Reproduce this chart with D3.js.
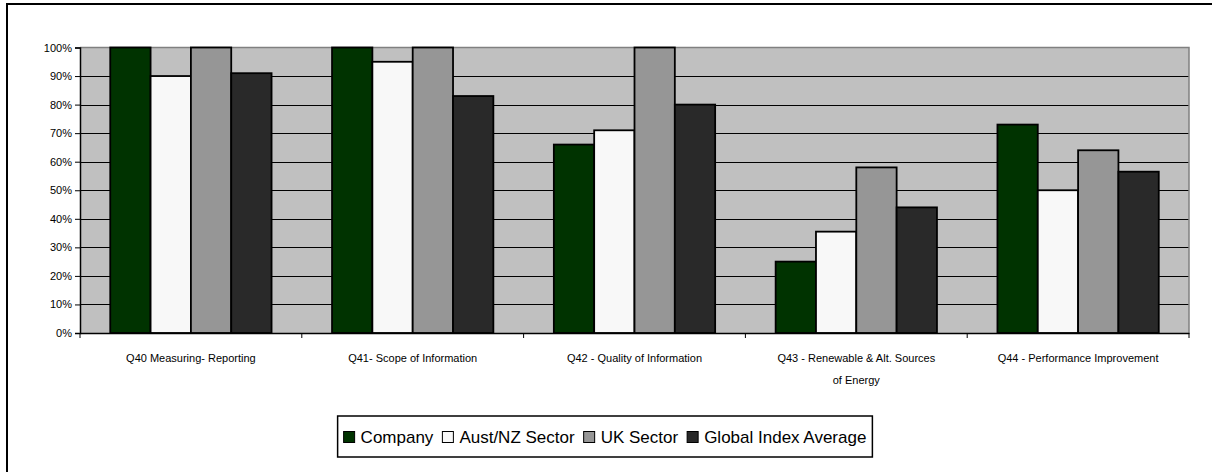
<!DOCTYPE html>
<html>
<head>
<meta charset="utf-8">
<script src="https://cdn.jsdelivr.net/npm/d3@7"></script>
<style>
  html, body { margin: 0; padding: 0; background: #ffffff; }
  svg { display: block; font-family: "Liberation Sans", Arial, sans-serif; }
</style>
</head>
<body>
<svg id="chart" width="1212" height="472"></svg>
<script>
const categories = [
  ["Q40 Measuring- Reporting"],
  ["Q41- Scope of Information"],
  ["Q42 - Quality of Information"],
  ["Q43 - Renewable & Alt. Sources", "of Energy"],
  ["Q44 - Performance Improvement"]
];
const seriesNames = ["Company", "Aust/NZ Sector", "UK Sector", "Global Index Average"];
const company = [1.00, 1.00, 0.66, 0.25, 0.73];
const austNZ  = [0.90, 0.95, 0.71, 0.355, 0.50];
const ukSector = [1.00, 1.00, 1.00, 0.58, 0.64];
const globalAvg = [0.91, 0.83, 0.80, 0.44, 0.565];
const yTicks = [0, 0.1, 0.2, 0.3, 0.4, 0.5, 0.6, 0.7, 0.8, 0.9, 1.0];
const colors = ["#003300", "#f8f8f8", "#969696", "#292929"];

const seriesValues = [company, austNZ, ukSector, globalAvg];
const catKeys = categories.map(c => c.join(" "));

const svg = d3.select("#chart");

// outer frame
svg.append("rect").attr("x", 7).attr("y", 4).attr("width", 1230).attr("height", 500)
  .attr("fill", "#fff").attr("stroke", "#000").attr("stroke-width", 2);

const plot = { left: 80, right: 1189, top: 47.5, bottom: 333 };

const x = d3.scaleBand().domain(catKeys).range([plot.left, plot.right]).padding(0);
const x1 = d3.scaleBand().domain(seriesNames).range([0, x.bandwidth()]).paddingInner(0).paddingOuter(0.75);
const y = d3.scaleLinear().domain([0, 1]).range([plot.bottom, plot.top]);

// plot background
svg.append("rect").attr("x", plot.left).attr("y", plot.top)
  .attr("width", plot.right - plot.left).attr("height", plot.bottom - plot.top)
  .attr("fill", "#c0c0c0");

// gridlines
svg.append("g").selectAll("line").data(yTicks.filter(t => t > 0 && t < 1)).join("line")
  .attr("x1", plot.left).attr("x2", plot.right)
  .attr("y1", d => Math.round(y(d)) + 0.5).attr("y2", d => Math.round(y(d)) + 0.5)
  .attr("stroke", "#000").attr("stroke-width", 1);

// plot border top/right (gray)
svg.append("path")
  .attr("d", `M${plot.left},${plot.top}H${plot.right}V${plot.bottom}`)
  .attr("fill", "none").attr("stroke", "#808080").attr("stroke-width", 1.5);

// bars
const groups = svg.append("g").selectAll("g").data(catKeys).join("g")
  .attr("transform", d => `translate(${x(d)},0)`);
groups.selectAll("rect").data((d, i) => seriesNames.map((s, j) => ({ s, j, v: seriesValues[j][i] }))).join("rect")
  .attr("x", d => x1(d.s))
  .attr("width", x1.bandwidth())
  .attr("y", d => y(d.v))
  .attr("height", d => y(0) - y(d.v))
  .attr("fill", d => colors[d.j])
  .attr("stroke", "#000").attr("stroke-width", 1.8);

// y axis
const yAxis = d3.axisLeft(y).tickValues(yTicks).tickFormat(d3.format(".0%")).tickSize(5).tickPadding(3);
const yg = svg.append("g").attr("transform", `translate(${plot.left},0)`).call(yAxis);
yg.select(".domain").attr("stroke", "#000").attr("stroke-width", 1.5);
yg.selectAll(".tick line").attr("stroke", "#000");
yg.selectAll(".tick text").attr("font-size", 11).attr("fill", "#000")
  .attr("font-family", "'Liberation Sans', Arial, sans-serif");

// x axis
const xg = svg.append("g").attr("transform", `translate(0,${plot.bottom})`)
  .call(d3.axisBottom(x).tickSize(0).tickFormat(""));
xg.select(".domain").attr("stroke", "#000").attr("stroke-width", 1.5);
const boundaries = catKeys.map(k => x(k)).concat([x.range()[1]]);
xg.selectAll(".bnd").data(boundaries).join("line").attr("class", "bnd")
  .attr("x1", d => d).attr("x2", d => d).attr("y1", 0).attr("y2", 5)
  .attr("stroke", "#000").attr("stroke-width", 1);
categories.forEach((lines, i) => {
  const t = svg.append("text")
    .attr("x", x(catKeys[i]) + x.bandwidth() / 2)
    .attr("y", 362)
    .attr("text-anchor", "middle")
    .attr("font-size", 11).attr("fill", "#000");
  lines.forEach((ln, k) => {
    t.append("tspan").attr("x", x(catKeys[i]) + x.bandwidth() / 2)
      .attr("dy", k === 0 ? 0 : 22).text(ln);
  });
});

// legend
const legend = svg.append("g");
const legBox = legend.append("rect").attr("fill", "#fff").attr("stroke", "#000").attr("stroke-width", 1.5);
let cx = 0;
seriesNames.forEach((s, j) => {
  const g = legend.append("g");
  g.append("rect").attr("x", cx).attr("y", -11.5).attr("width", 11).attr("height", 11)
    .attr("fill", colors[j]).attr("stroke", "#000").attr("stroke-width", 1);
  const t = g.append("text").attr("x", cx + 17).attr("y", 0).attr("font-size", 17).attr("fill", "#000").text(s);
  cx += 17 + t.node().getComputedTextLength() + 9;
});
const legW = cx - 9 + 12;
const legCenter = 605;
const legLeft = legCenter - legW / 2;
legend.selectAll("g").attr("transform", `translate(${legLeft + 6},443)`);
legBox.attr("x", legLeft).attr("y", 416).attr("width", legW).attr("height", 41);
</script>
</body>
</html>
